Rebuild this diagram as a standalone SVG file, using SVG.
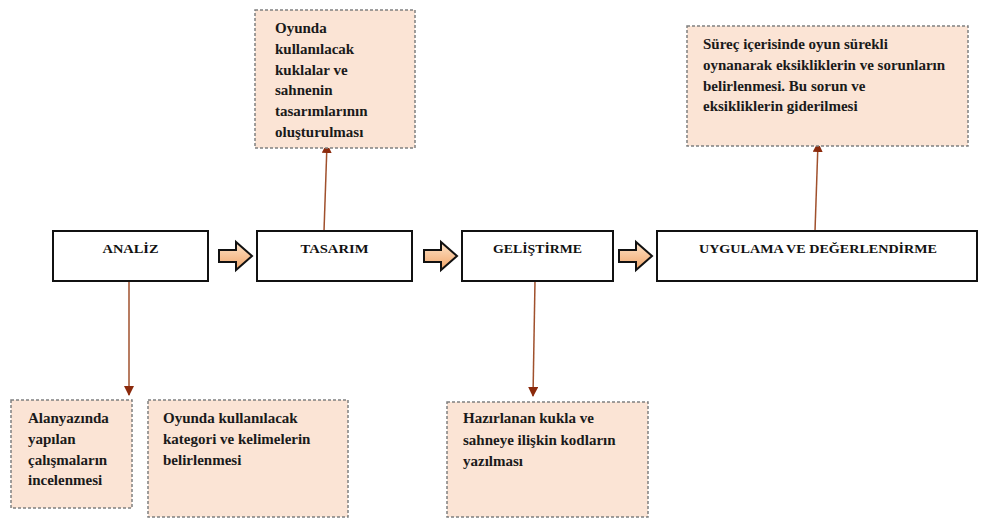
<svg xmlns="http://www.w3.org/2000/svg" width="984" height="519" viewBox="0 0 984 519">
<defs>
<linearGradient id="ag" x1="0" y1="0" x2="0" y2="1">
<stop offset="0" stop-color="#fde3c8"/>
<stop offset="1" stop-color="#f0a468"/>
</linearGradient>
<linearGradient id="lg" x1="0" y1="0" x2="0" y2="1">
<stop offset="0" stop-color="#9c4a2a"/>
<stop offset="1" stop-color="#d9a17f"/>
</linearGradient>
<marker id="ah" viewBox="0 0 10 10" refX="9" refY="5" markerWidth="10" markerHeight="10" markerUnits="userSpaceOnUse" orient="auto">
<path d="M0,0 L10,5 L0,10 Z" fill="#8b2a0c"/>
</marker>
<style>
.main{fill:#fff;stroke:#111;stroke-width:2}
.note{fill:#fbe4d5;stroke:#808080;stroke-width:1.5;stroke-dasharray:3 2}
.lbl{font-family:"Liberation Serif",serif;font-weight:bold;font-size:12.5px;fill:#111;text-anchor:middle}
.txt{font-family:"Liberation Serif",serif;font-weight:bold;font-size:15px;fill:#1a1a1a}
.blk{fill:url(#ag);stroke:#111;stroke-width:2;stroke-linejoin:miter}
.con{fill:none;stroke:#a0502c;stroke-width:1.5;marker-end:url(#ah)}
</style>
</defs>
<g id="connectors">
<line class="con" x1="129" y1="281" x2="129" y2="395"/>
<line class="con" x1="535" y1="281" x2="533" y2="396"/>
<line class="con" x1="324" y1="231" x2="327" y2="144"/>
<line class="con" x1="815" y1="231" x2="818" y2="143"/>
<path class="blk" d="M219,250 H236 V242 L252,256 L236,270 V262 H219 Z"/>
<path class="blk" d="M424,250 H441 V242 L457,256 L441,270 V262 H424 Z"/>
<path class="blk" d="M619,250 H636 V242 L652,256 L636,270 V262 H619 Z"/>
</g>
<g id="analiz">
<rect class="main" x="53" y="231" width="155" height="50"/>
<text class="lbl" x="130.5" y="253" textLength="56" lengthAdjust="spacingAndGlyphs">ANALİZ</text>
</g>
<g id="tasarim">
<rect class="main" x="257" y="231" width="155" height="50"/>
<text class="lbl" x="334.5" y="253" textLength="68" lengthAdjust="spacingAndGlyphs">TASARIM</text>
</g>
<g id="gelistirme">
<rect class="main" x="462" y="231" width="151" height="50"/>
<text class="lbl" x="537.5" y="253" textLength="89" lengthAdjust="spacingAndGlyphs">GELİŞTİRME</text>
</g>
<g id="uygulama">
<rect class="main" x="657" y="231" width="320" height="50"/>
<text class="lbl" x="818" y="253" textLength="238" lengthAdjust="spacingAndGlyphs">UYGULAMA VE DEĞERLENDİRME</text>
</g>
<g id="note-tasarim">
<rect class="note" x="255" y="10" width="160" height="138"/>
<text class="txt" x="275"><tspan x="275" y="33">Oyunda</tspan><tspan x="275" y="54">kullanılacak</tspan><tspan x="275" y="75">kuklalar ve</tspan><tspan x="275" y="95">sahnenin</tspan><tspan x="275" y="116">tasarımlarının</tspan><tspan x="275" y="137">oluşturulması</tspan></text>
</g>
<g id="note-uygulama">
<rect class="note" x="687" y="26" width="281" height="120"/>
<text class="txt"><tspan x="703" y="49">Süreç içerisinde oyun sürekli</tspan><tspan x="703" y="70">oynanarak eksikliklerin ve sorunların</tspan><tspan x="703" y="91">belirlenmesi. Bu sorun ve</tspan><tspan x="703" y="111">eksikliklerin giderilmesi</tspan></text>
</g>
<g id="note-analiz-1">
<rect class="note" x="11" y="400" width="121" height="108"/>
<text class="txt"><tspan x="28" y="423">Alanyazında</tspan><tspan x="28" y="444">yapılan</tspan><tspan x="28" y="465">çalışmaların</tspan><tspan x="28" y="485">incelenmesi</tspan></text>
</g>
<g id="note-analiz-2">
<rect class="note" x="148" y="400" width="200" height="117"/>
<text class="txt"><tspan x="163" y="423">Oyunda kullanılacak</tspan><tspan x="163" y="444">kategori ve kelimelerin</tspan><tspan x="163" y="465">belirlenmesi</tspan></text>
</g>
<g id="note-gelistirme">
<rect class="note" x="447" y="402" width="201" height="115"/>
<text class="txt"><tspan x="463" y="423">Hazırlanan kukla ve</tspan><tspan x="463" y="445">sahneye ilişkin kodların</tspan><tspan x="463" y="466">yazılması</tspan></text>
</g>
</svg>
